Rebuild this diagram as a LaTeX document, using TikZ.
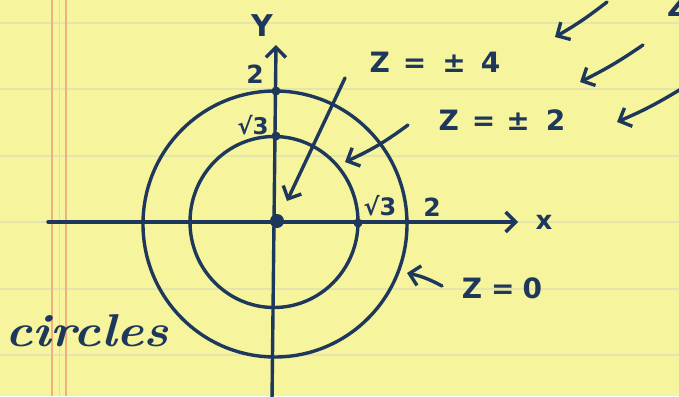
\documentclass[tikz,border=0pt]{standalone}
\usepackage{fontspec}
\usepackage{graphicx}
\usetikzlibrary{arrows.meta}
\newfontfamily\hand{DejaVu Sans}
\definecolor{paper}{RGB}{247,244,158}
\definecolor{ink}{RGB}{30,56,92}
\definecolor{rulecol}{RGB}{228,228,172}
\definecolor{margincol}{RGB}{240,176,128}
\begin{document}
\begin{tikzpicture}[x=1pt,y=-1pt,
  inkline/.style={draw=ink,line width=3.4pt,line cap=round},
  inkarrow/.style={inkline,-{Straight Barb[length=10pt,width=20pt]}},
  lbl/.style={text=ink,inner sep=0pt},
  dotnode/.style={circle,fill=ink,inner sep=0pt,minimum size=9pt}]
\useasboundingbox (0,0) rectangle (679,396);
\clip (0,0) rectangle (679,396);
\fill[paper] (0,0) rectangle (679,396);
% ruled lines
\foreach \yy in {23,89,156,222,289,355}
  \draw[rulecol,line width=1.5pt] (0,\yy) -- (679,\yy);
\draw[margincol,line width=2pt] (52,0) -- (52,396);
\draw[margincol!60,line width=1pt] (59,0) -- (59,396);
\draw[margincol,line width=2pt] (66,0) -- (66,396);
% circles
\draw[inkline] (275,224) ellipse [x radius=132, y radius=133];
\draw[inkline] (274,222) ellipse [x radius=84, y radius=85.5];
% axes
\coordinate (ytop) at (276,45);
\coordinate (ybot) at (272,400);
\coordinate (xl) at (48,222);
\coordinate (xr) at (518,222);
\draw[inkarrow] (ybot) -- (ytop);
\draw[inkarrow] (xl) -- (xr);
% dots
\node[dotnode,minimum size=14pt] (o) at (277,221) {};
\node[dotnode] (d2) at (276,91) {};
\node[dotnode] (d3) at (276,136) {};
\node[dotnode] (dx3) at (358,223) {};
\node[dotnode,minimum size=6pt] (dx2) at (407,222) {};
% axis labels
\node[lbl,font=\hand\bfseries\fontsize{30}{30}\selectfont] (ylab) at (262,26) {Y};
\node[lbl,font=\hand\bfseries\fontsize{25}{25}\selectfont] (l2y) at (255,74) {2};
\node[lbl,font=\hand\bfseries\fontsize{23}{23}\selectfont] (l3y) at (253,125) {√3};
\node[lbl,font=\hand\bfseries\fontsize{24}{24}\selectfont] (l3x) at (380,206) {√3};
\node[lbl,font=\hand\bfseries\fontsize{25}{25}\selectfont] (l2x) at (432,207) {2};
\node[lbl,font=\hand\bfseries\fontsize{26}{26}\selectfont] (xlab) at (544,222) {x};
% z labels
\node[lbl,font=\hand\bfseries\fontsize{28}{28}\selectfont] (z4) at (435,62) {Z\hspace{13pt}=\hspace{16pt}±\hspace{15pt}4};
\node[lbl,font=\hand\bfseries\fontsize{28}{28}\selectfont] (z2) at (502,120) {Z\hspace{13pt}=\hspace{11pt}±\hspace{16pt}2};
\node[lbl,font=\hand\bfseries\fontsize{28}{28}\selectfont] (z0) at (502,288) {Z\hspace{9pt}=\hspace{8pt}0};
\node[lbl,font=\hand\bfseries\fontsize{28}{28}\selectfont,anchor=west] (zpart) at (667,6) {Z};
% circles word
\node[lbl] (circ) at (87,331) {\scalebox{1.12}[1]{\fontsize{46}{46}\selectfont\bfseries\itshape circles}};
% arrows
\coordinate (a1s) at (345,78);  \coordinate (a1e) at (287,201);
\coordinate (a2s) at (408,125); \coordinate (a2e) at (345,162);
\coordinate (a3s) at (442,286); \coordinate (a3e) at (407,273);
\coordinate (a4s) at (607,2);   \coordinate (a4e) at (555,37);
\coordinate (a5s) at (643,45);  \coordinate (a5e) at (580,82);
\coordinate (a6s) at (681,89);  \coordinate (a6e) at (617,122);
\draw[inkarrow] (a1s) -- (a1e);
\draw[inkarrow] (a2s) to[bend left=6] (a2e);
\draw[inkarrow] (a3s) to[bend right=8] (a3e);
\draw[inkarrow] (a4s) to[bend left=4] (a4e);
\draw[inkarrow] (a5s) to[bend left=4] (a5e);
\draw[inkarrow] (a6s) to[bend left=4] (a6e);
\end{tikzpicture}
\end{document}
